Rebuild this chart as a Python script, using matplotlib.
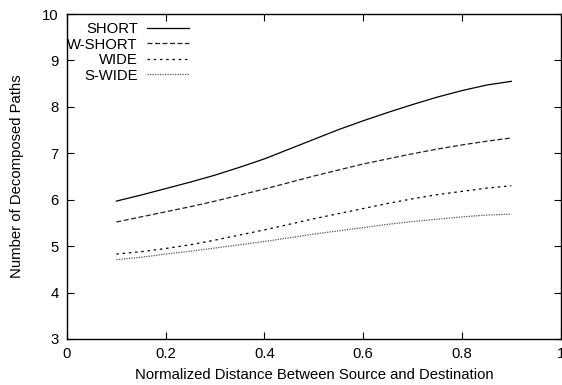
import matplotlib
matplotlib.use("Agg")
import matplotlib.pyplot as plt

plt.rcParams['font.family'] = ['Liberation Sans', 'DejaVu Sans']

distance = [0.10, 0.15, 0.20, 0.25, 0.30, 0.35, 0.40, 0.45, 0.50,
            0.55, 0.60, 0.65, 0.70, 0.75, 0.80, 0.85, 0.90]
short = [5.97, 6.10, 6.24, 6.38, 6.53, 6.70, 6.88, 7.09, 7.30,
         7.51, 7.70, 7.88, 8.05, 8.21, 8.35, 8.47, 8.55]
w_short = [5.52, 5.63, 5.74, 5.85, 5.97, 6.10, 6.23, 6.37, 6.51,
           6.64, 6.77, 6.88, 6.99, 7.09, 7.18, 7.26, 7.33]
wide = [4.83, 4.88, 4.95, 5.03, 5.13, 5.24, 5.35, 5.47, 5.59,
        5.70, 5.81, 5.92, 6.02, 6.11, 6.18, 6.25, 6.30]
s_wide = [4.71, 4.76, 4.83, 4.89, 4.96, 5.03, 5.10, 5.18, 5.26,
          5.33, 5.40, 5.47, 5.53, 5.58, 5.63, 5.67, 5.69]

labels = ["SHORT", "W-SHORT", "WIDE", "S-WIDE"]
xticks = [0, 0.2, 0.4, 0.6, 0.8, 1]
xticklabels = ["0", "0.2", "0.4", "0.6", "0.8", "1"]
yticks = [3, 4, 5, 6, 7, 8, 9, 10]

FS = 10.7

fig = plt.figure(figsize=(5.62, 3.85), dpi=100)
ax = fig.add_axes([67 / 562, 46 / 385, (560.7 - 67) / 562, (339 - 14) / 385])

styles = [
    dict(linestyle='-', color='black', linewidth=0.9),
    dict(linestyle=(0, (4, 2)), color='#222222', linewidth=0.9),
    dict(linestyle=(0, (2, 3)), color='black', linewidth=0.9),
    dict(linestyle=(0, (1, 1)), color='#555555', linewidth=0.9),
]
series = [short, w_short, wide, s_wide]
handles = []
for ys, lab, st in zip(series, labels, styles):
    h, = ax.plot(distance, ys, label=lab, **st)
    handles.append(h)

ax.set_xlim(0, 1)
ax.set_ylim(3, 10)
ax.set_xticks(xticks)
ax.set_xticklabels(xticklabels)
ax.set_yticks(yticks)
ax.tick_params(direction='in', length=5, width=0.8, top=True, right=True,
               labelsize=FS, pad=6)
ax.tick_params(axis='x', pad=6)
for sp in ax.spines.values():
    sp.set_linewidth(1.0)

ax.set_xlabel("Normalized Distance Between Source and Destination", fontsize=FS, labelpad=5)
ax.set_ylabel("Number of Decomposed Paths", fontsize=FS, labelpad=13)

# label column on the left, right-aligned, line samples to its right
leg = ax.legend(handles=handles, loc='upper left', frameon=False, fontsize=FS,
                markerfirst=False, handlelength=2.8, handletextpad=0.65,
                labelspacing=0.1, borderaxespad=0.0, borderpad=0.55,
                bbox_to_anchor=(-0.016, 1.0))

fig.savefig("out.png", dpi=100)
